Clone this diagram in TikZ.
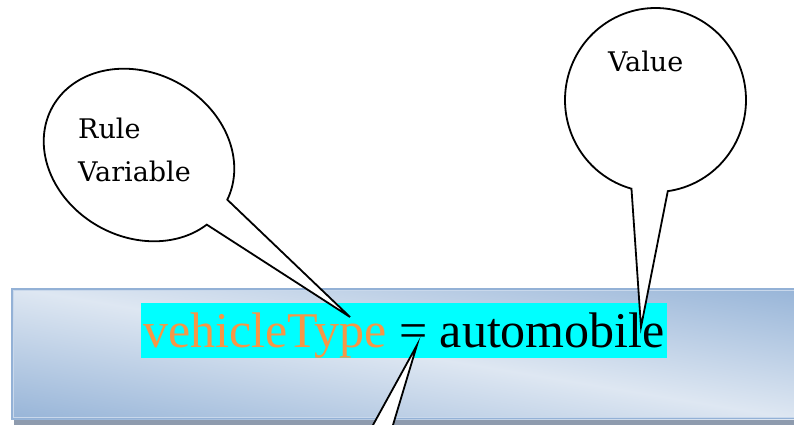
\documentclass[tikz,border=0pt]{standalone}
\usepackage{fontspec}
\setmainfont{Liberation Serif}
\newfontfamily\labelfont{DejaVu Serif}
\definecolor{panelDark}{HTML}{95B3D7}
\definecolor{panelLight}{HTML}{DEE7F2}
\definecolor{panelEdge}{HTML}{93B1D6}
\definecolor{panelInner}{HTML}{C9D8EB}
\definecolor{shadowGray}{HTML}{8E9BAE}
\definecolor{varOrange}{HTML}{F79646}
\definecolor{hiCyan}{HTML}{00FFFF}
\begin{document}
\begin{tikzpicture}[x=1pt,y=-1pt,
  bubble/.style={fill=white,draw=black,line width=1.8pt,line join=miter},
  lbl/.style={font=\labelfont\fontsize{27pt}{43pt}\selectfont,inner sep=0pt,anchor=base west}]
\useasboundingbox (0,0) rectangle (794,425);
\clip (0,0) rectangle (794,425);
% panel shadow
\fill[shadowGray] (14,419) rectangle (800,425);
% panel with diagonal gradient
\begin{scope}
  \clip (11,288) rectangle (800,419);
  \fill[panelDark] (11,288) rectangle (800,419);
  \begin{scope}[transform canvas={rotate around={-9.5:(405,353.5)}}]
    \shade[top color=panelDark,bottom color=panelDark,middle color=panelLight]
      (-195,220) rectangle (1005,487);
  \end{scope}
\end{scope}
\draw[panelEdge,line width=1.6pt] (11.8,288.8) rectangle (802,418.6);
\draw[panelInner,line width=0.8pt] (13.2,290.2) rectangle (802,417.2);
% highlighted expression
\node[fill=hiCyan,inner xsep=2pt,inner ysep=0pt,text height=44.5pt,text depth=11pt,
      anchor=base,font=\fontsize{50pt}{60pt}\selectfont] (expr) at (404,347)
  {\textcolor{varOrange}{vehicleType} = automobile};
% callout tips
\coordinate (tipL) at (350,317);
\coordinate (tipV) at (641,327);
\coordinate (tipB) at (417,345);
% Rule Variable bubble
\begin{scope}[shift={(139,155)},rotate=-29]
  \filldraw[bubble] (tipL) -- plot[domain=20:357.4,samples=160] ({99*cos(\x)},{82*sin(\x)}) -- cycle;
\end{scope}
% Value bubble
\begin{scope}[shift={(655.5,100)}]
  \filldraw[bubble] (tipV) -- plot[domain=105.4:442.2,samples=160] ({90.5*cos(\x)},{92*sin(\x)}) -- cycle;
\end{scope}
% bottom bubble tail (bubble itself lies below the picture)
\filldraw[bubble] (359.25,450) -- (tipB) -- (385.5,450);
% labels
\node[lbl] (ruleVar) at (78,138) {\parbox[t]{160pt}{Rule\\Variable}};
\node[lbl] (valueLbl) at (608,71.7) {Value};
\end{tikzpicture}
\end{document}
